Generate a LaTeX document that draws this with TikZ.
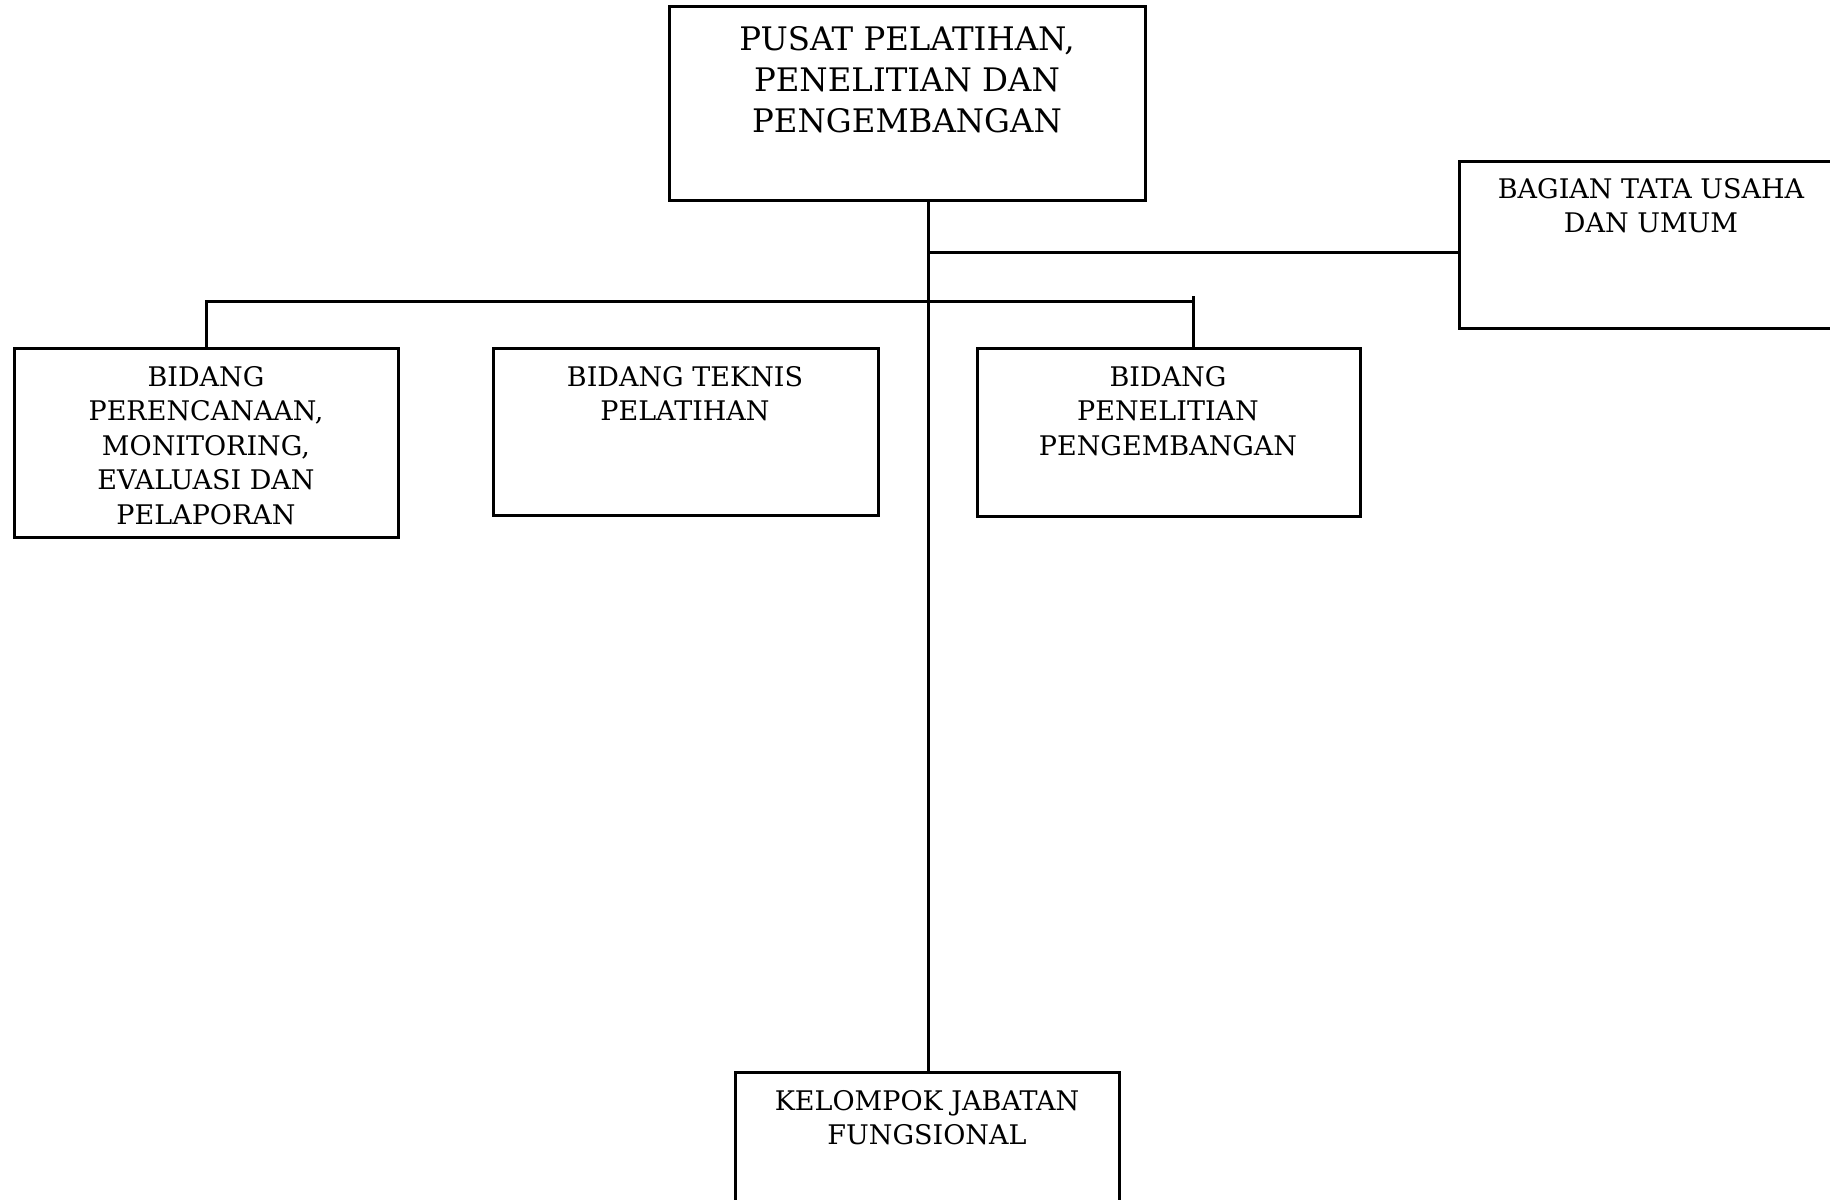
\documentclass[tikz,border=0pt]{standalone}
\usepackage{fontspec}
\setmainfont{DejaVu Serif}
\begin{document}
\begin{tikzpicture}[x=0.5pt,y=-0.5pt,
  box/.style={draw=black,line width=1.5pt,rectangle,inner sep=0pt,outer sep=0pt,anchor=north west},
  lbl/.style={anchor=north,inner sep=0pt,align=center,font=\fontsize{13.5}{17.2}\selectfont},
  biglbl/.style={anchor=north,inner sep=0pt,align=center,font=\fontsize{16.2}{20.4}\selectfont},
  conn/.style={line width=1.5pt}]
\useasboundingbox (0,0) rectangle (1830,1199);
\clip (0,0) rectangle (1830,1199);
\fill[white] (0,0) rectangle (1830,1199);
% boxes
\node[box,minimum width=238pt,minimum height=97pt] (top) at (669,6) {};
\node[box,minimum width=192.5pt,minimum height=83.5pt] (bag) at (1459,161) {};
\node[box,minimum width=192pt,minimum height=94.5pt] (bpm) at (14,348) {};
\node[box,minimum width=192.5pt,minimum height=83.5pt] (btp) at (493,348) {};
\node[box,minimum width=191.5pt,minimum height=84pt] (bpp) at (977,348) {};
\node[box,minimum width=192pt,minimum height=80pt] (kel) at (735,1072) {};
% labels
\node[biglbl] (ttop) at (907,26) {PUSAT PELATIHAN,\\PENELITIAN DAN\\PENGEMBANGAN};
\node[lbl] (tbag) at (1651,178) {BAGIAN TATA USAHA\\DAN UMUM};
\node[lbl] (tbpm) at (206,366) {BIDANG\\PERENCANAAN,\\MONITORING,\\EVALUASI DAN\\PELAPORAN};
\node[lbl] (tbtp) at (685,366) {BIDANG TEKNIS\\PELATIHAN};
\node[lbl] (tbpp) at (1168,366) {BIDANG\\PENELITIAN\\PENGEMBANGAN};
\node[lbl] (tkel) at (927,1090) {KELOMPOK JABATAN\\FUNGSIONAL};
% connectors
\coordinate (jb) at (928,252);
\coordinate (hl) at (206,301);
\coordinate (hr) at (1193,301);
\coordinate (hrs) at (1193,296);
\draw[conn] (kel.north -| jb) -- (jb |- top.south);
\draw[conn] (jb) -- (jb -| bag.west);
\draw[conn] (bpm.north) -- (hl) -- (hr);
\draw[conn] (hrs) -- (hrs |- bpp.north);
\end{tikzpicture}
\end{document}
